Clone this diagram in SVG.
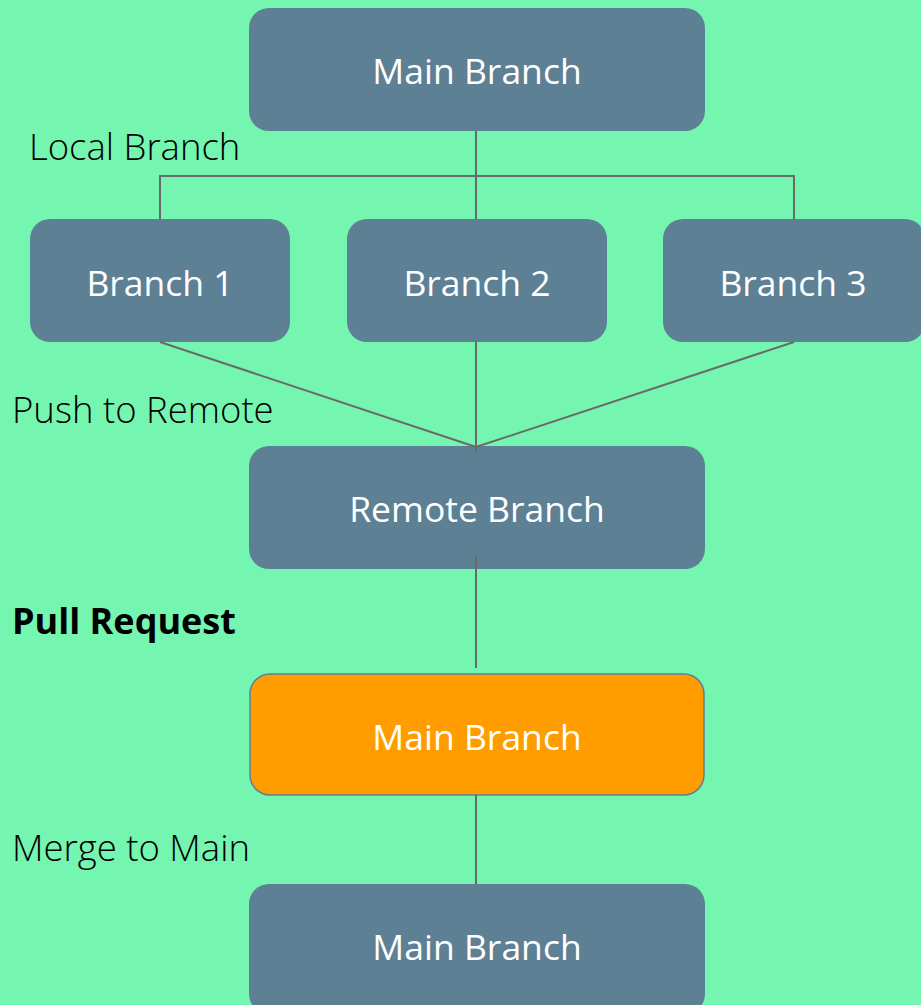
<svg xmlns="http://www.w3.org/2000/svg" width="921" height="1005" viewBox="0 0 921 1005">
  <defs>
    <style>
      .bg { fill: #74f5b0; }
      .node rect { fill: #5e8095; }
      .node.active rect { fill: #ff9c00; stroke: #5e8095; stroke-width: 1.5; }
      .node text { font-family: "Open Sans", "Noto Sans", sans-serif; font-size: 35.5px; fill: #ffffff; text-anchor: middle; }
      .label { font-family: "Open Sans", "Noto Sans", sans-serif; font-size: 36.5px; fill: #000000; font-weight: 300; }
      .label.bold { font-size: 36px; font-weight: 700; }
      .edges { stroke: #6a6a6a; stroke-width: 2; fill: none; }
    </style>
  </defs>

  <rect class="bg" x="0" y="0" width="921" height="1005"/>

  <g id="main-top" class="node">
    <rect x="249" y="8" width="456" height="123" rx="20"/>
    <text x="477" y="84">Main Branch</text>
  </g>
  <g id="branch-1" class="node">
    <rect x="30" y="219" width="260" height="123" rx="20"/>
    <text x="160" y="296">Branch 1</text>
  </g>
  <g id="branch-2" class="node">
    <rect x="347" y="219" width="260" height="123" rx="20"/>
    <text x="477" y="296">Branch 2</text>
  </g>
  <g id="branch-3" class="node">
    <rect x="663" y="219" width="262" height="123" rx="20"/>
    <text x="793" y="296">Branch 3</text>
  </g>
  <g id="remote-branch" class="node">
    <rect x="249" y="446" width="456" height="123" rx="20"/>
    <text x="477" y="522">Remote Branch</text>
  </g>
  <g id="main-pr" class="node active">
    <rect x="250" y="674" width="454" height="121" rx="20"/>
    <text x="477" y="750">Main Branch</text>
  </g>
  <g id="main-bottom" class="node">
    <rect x="249" y="884" width="456" height="130" rx="20"/>
    <text x="477" y="960">Main Branch</text>
  </g>

  <g id="connectors" class="edges">
    <path d="M476,131 V219"/>
    <path d="M160,219 V176 H794 V219"/>
    <path d="M160,342 L476,447 M476,342 V452 M794,342 L476,447"/>
    <path d="M476,556 V668"/>
    <path d="M476,795 V884"/>
  </g>

  <g id="labels">
    <text class="label" x="29" y="160">Local Branch</text>
    <text class="label" x="12" y="423">Push to Remote</text>
    <text class="label bold" x="12" y="634">Pull Request</text>
    <text class="label" x="12" y="861">Merge to Main</text>
  </g>
</svg>
